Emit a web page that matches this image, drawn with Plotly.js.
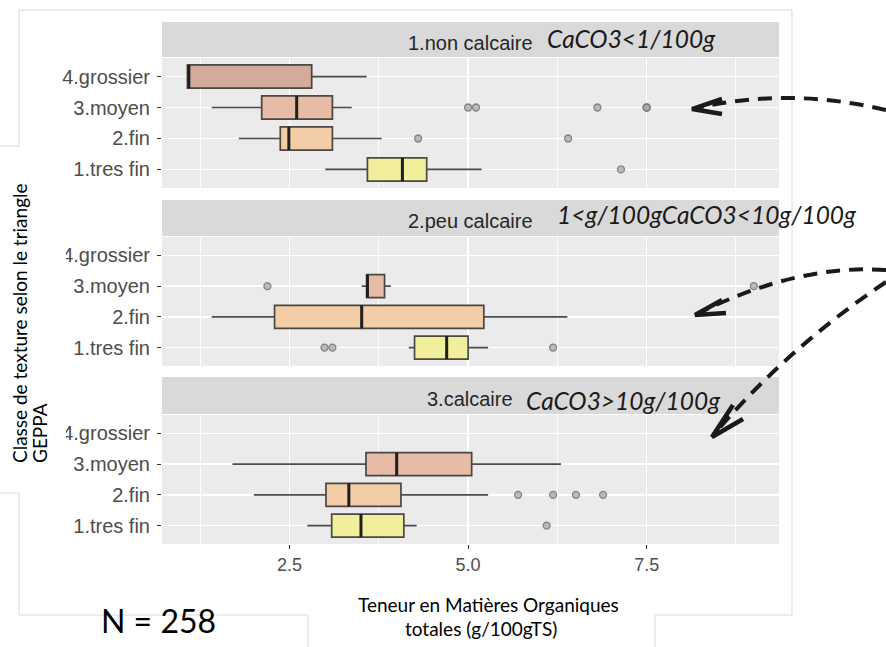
<!DOCTYPE html>
<html>
<head>
<meta charset="utf-8">
<script src="https://cdn.plot.ly/plotly-3.0.1.min.js"></script>
<style>html,body{margin:0;padding:0;background:#fff;}#chart{width:886px;height:647px;}</style>
</head>
<body>
<div id="chart"></div>
<script>
// ---------- data ----------
const categories = ['1.tres fin', '2.fin', '3.moyen', '4.grossier'];
const panelNames = ['1.non calcaire', '2.peu calcaire', '3.calcaire'];
const panelNotes = ['CaCO3<1/100g', '1<g/100gCaCO3<10g/100g', 'CaCO3>10g/100g'];
const xTickLabels = ['2.5', '5.0', '7.5'];
const boxColors = ['#f1ef9b', '#f3cda8', '#e7bca6', '#d4ab9a'];

// panel 1 : non calcaire  (order: tres fin, fin, moyen, grossier)
const nonCalc_lower  = [3.00, 1.79, 1.41, 1.07];
const nonCalc_q1     = [3.59, 2.37, 2.11, 1.07];
const nonCalc_median = [4.08, 2.49, 2.60, 1.09];
const nonCalc_q3     = [4.42, 3.10, 3.10, 2.81];
const nonCalc_upper  = [5.19, 3.79, 3.37, 3.58];
const nonCalc_outX   = [7.14, 4.30, 6.40, 5.00, 5.11, 6.81, 7.50, 7.50];
const nonCalc_outCat = ['1.tres fin', '2.fin', '2.fin', '3.moyen', '3.moyen', '3.moyen', '3.moyen', '3.moyen'];

// panel 2 : peu calcaire
const peuCalc_lower  = [4.17, 1.41, 3.51, null];
const peuCalc_q1     = [4.25, 2.29, 3.58, null];
const peuCalc_median = [4.70, 3.51, 3.59, null];
const peuCalc_q3     = [5.00, 5.22, 3.83, null];
const peuCalc_upper  = [5.28, 6.39, 3.92, null];
const peuCalc_outX   = [2.99, 3.10, 6.19, 2.19, 9.00];
const peuCalc_outCat = ['1.tres fin', '1.tres fin', '1.tres fin', '3.moyen', '3.moyen'];

// panel 3 : calcaire
const calc_lower  = [2.75, 2.00, 1.70, null];
const calc_q1     = [3.09, 3.01, 3.57, null];
const calc_median = [3.50, 3.33, 4.00, null];
const calc_q3     = [4.10, 4.06, 5.05, null];
const calc_upper  = [4.28, 5.28, 6.30, null];
const calc_outX   = [6.10, 5.70, 6.19, 6.51, 6.89];
const calc_outCat = ['1.tres fin', '2.fin', '2.fin', '2.fin', '2.fin'];

// ---------- build ----------
const panels = [
  {lower: nonCalc_lower, q1: nonCalc_q1, med: nonCalc_median, q3: nonCalc_q3, upper: nonCalc_upper, ox: nonCalc_outX, oc: nonCalc_outCat},
  {lower: peuCalc_lower, q1: peuCalc_q1, med: peuCalc_median, q3: peuCalc_q3, upper: peuCalc_upper, ox: peuCalc_outX, oc: peuCalc_outCat},
  {lower: calc_lower, q1: calc_q1, med: calc_median, q3: calc_q3, upper: calc_upper, ox: calc_outX, oc: calc_outCat}
];

const PL = 162, PR = 779, PT = 22, PB = 544;
const fx = p => (p - PL) / (PR - PL);
const fy = p => (PB - p) / (PB - PT);

const BOXW = 0.75;
const traces = [];
panels.forEach((pn, i) => {
  const xa = i === 0 ? 'x' : 'x' + (i + 1);
  const ya = i === 0 ? 'y' : 'y' + (i + 1);
  categories.forEach((c, k) => {
    if (pn.q1[k] === null) return;
    traces.push({
      type: 'box', orientation: 'h', xaxis: xa, yaxis: ya,
      y: [k], q1: [pn.q1[k]], median: [pn.med[k]], q3: [pn.q3[k]],
      lowerfence: [pn.lower[k]], upperfence: [pn.upper[k]],
      width: BOXW, whiskerwidth: 0, boxpoints: false,
      fillcolor: boxColors[k],
      line: {color: 'rgba(45,45,45,0.85)', width: 1.7},
      hoverinfo: 'skip'
    });
  });
  // thick medians
  const mx = [], my = [];
  categories.forEach((c, k) => {
    if (pn.med[k] === null) return;
    mx.push(pn.med[k], pn.med[k], null);
    my.push(k - BOXW / 2, k + BOXW / 2, null);
  });
  traces.push({type: 'scatter', mode: 'lines', xaxis: xa, yaxis: ya, x: mx, y: my,
    line: {color: '#1f1f1f', width: 3}, hoverinfo: 'skip'});
  // outliers
  traces.push({type: 'scatter', mode: 'markers', xaxis: xa, yaxis: ya,
    x: pn.ox, y: pn.oc.map(c => categories.indexOf(c)),
    marker: {size: 7, color: 'rgba(165,165,165,0.75)', line: {color: 'rgba(110,110,110,0.8)', width: 1.3}},
    hoverinfo: 'skip'});
});

const tickFont = {family: 'Liberation Sans, Arial, sans-serif', size: 20, color: '#4d4d4d'};
const xTickFont = {family: 'Liberation Sans, Arial, sans-serif', size: 18, color: '#4d4d4d'};
const domains = [[fy(188), fy(58)], [fy(366), fy(237)], [fy(544), fy(415)]];

const layout = {
  width: 886, height: 647,
  margin: {l: PL, r: 886 - PR, t: PT, b: 647 - PB, pad: 0},
  paper_bgcolor: '#ffffff', plot_bgcolor: '#ebebeb',
  showlegend: false, boxmode: 'overlay', hovermode: false,
  shapes: [], annotations: []
};

panels.forEach((pn, i) => {
  const sfx = i === 0 ? '' : String(i + 1);
  layout['xaxis' + sfx] = {
    anchor: 'y' + sfx, domain: [0, 1], range: [0.714, 9.353],
    matches: i === 0 ? undefined : 'x',
    tickmode: 'array', tickvals: xTickLabels.map(Number), ticktext: xTickLabels,
    showgrid: true, gridcolor: '#ffffff', gridwidth: 1.6, zeroline: false, showline: false,
    minor: {tick0: 0, dtick: 1.25, showgrid: true, gridcolor: '#ffffff', gridwidth: 0.8, ticks: ''},
    showticklabels: i === 2, ticks: i === 2 ? 'outside' : '', ticklen: 4, tickcolor: '#333333', tickwidth: 1.2,
    tickfont: xTickFont, fixedrange: true
  };
  layout['yaxis' + sfx] = {
    anchor: 'x' + sfx, domain: domains[i], range: [-0.6, 3.6],
    tickmode: 'array', tickvals: [0, 1, 2, 3], ticktext: categories,
    showgrid: true, gridcolor: '#ffffff', gridwidth: 1.6, zeroline: false, showline: false,
    ticks: 'outside', ticklen: 4, tickcolor: '#333333', tickwidth: 1.2, ticklabelstandoff: 3,
    tickfont: tickFont, fixedrange: true
  };
});

// strips
const strips = [[22, 57], [200, 236], [377, 414]];
const stripTextY = [43, 221, 399];
const noteX = [545, 555, 524];
const noteY = [38, 214, 400];
strips.forEach((s, i) => {
  layout.shapes.push({type: 'rect', xref: 'paper', yref: 'paper', x0: 0, x1: 1, y0: fy(s[1]), y1: fy(s[0]),
    fillcolor: '#d9d9d9', line: {width: 0}, layer: 'below'});
  layout.annotations.push({xref: 'paper', yref: 'paper', x: fx(470), y: fy(stripTextY[i]), xanchor: 'center', yanchor: 'middle',
    text: panelNames[i], showarrow: false, font: {family: 'Liberation Sans, Arial, sans-serif', size: 20, color: '#262626'}});
  layout.annotations.push({xref: 'paper', yref: 'paper', x: fx(noteX[i]), y: fy(noteY[i]), xanchor: 'left', yanchor: 'middle',
    text: '<i>' + panelNotes[i].replace(/</g, '&lt;').replace(/>/g, '&gt;') + '</i>', showarrow: false,
    font: {family: 'Lato, sans-serif', size: 24.5, color: '#1a1a1a'}});
});

// screenshot frame lines
const frame = [[19, 10, 792, 10], [792, 10, 792, 615], [19, 615, 308, 615], [655, 615, 792, 615],
  [19, 10, 19, 146], [19, 493, 19, 615], [0, 146, 19, 146], [0, 493, 19, 493],
  [308, 615, 308, 647], [655, 615, 655, 647]];
frame.forEach(f => layout.shapes.push({type: 'line', xref: 'paper', yref: 'paper',
  x0: fx(f[0]), y0: fy(f[1]), x1: fx(f[2]), y1: fy(f[3]), line: {color: '#dadada', width: 1}, layer: 'above'}));
// white patch behind y title (clips start of the lower "4.grossier" labels as in the original)
layout.shapes.push({type: 'rect', xref: 'paper', yref: 'paper', x0: fx(0), x1: fx(66), y0: fy(492), y1: fy(147),
  fillcolor: '#ffffff', line: {width: 0}, layer: 'above'});

// dashed arrows
const P = (x, y) => fx(x).toFixed(4) + ',' + fy(y).toFixed(4);
const arrows = [
  {from: [886, 110], ctrl: [789, 87], to: [697, 108], arm1: [722, 99], tip: [692, 109], arm2: [722, 114]},
  {from: [886, 270], ctrl: [798, 264], to: [699, 313], arm1: [722, 300], tip: [695, 315], arm2: [726, 313]},
  {from: [886, 282], ctrl: [790, 346], to: [715, 433], arm1: [733, 405], tip: [712, 437], arm2: [743, 419]}
];
arrows.forEach(a => {
  layout.shapes.push({type: 'path', xref: 'paper', yref: 'paper',
    path: 'M ' + P(a.from[0], a.from[1]) + ' Q ' + P(a.ctrl[0], a.ctrl[1]) + ' ' + P(a.to[0], a.to[1]),
    line: {color: '#1a1a1a', width: 4, dash: '14px,9px'}, layer: 'above'});
  layout.shapes.push({type: 'path', xref: 'paper', yref: 'paper',
    path: 'M ' + P(a.arm1[0], a.arm1[1]) + ' L ' + P(a.tip[0], a.tip[1]) + ' L ' + P(a.arm2[0], a.arm2[1]),
    line: {color: '#1a1a1a', width: 4.5}, layer: 'above'});
});

// titles
const titleFont = {family: 'Lato, sans-serif', size: 19, color: '#000000'};
layout.annotations.push({xref: 'paper', yref: 'paper', x: fx(488), y: fy(604), xanchor: 'center', yanchor: 'middle',
  text: 'Teneur en Matières Organiques', showarrow: false, font: titleFont});
layout.annotations.push({xref: 'paper', yref: 'paper', x: fx(481), y: fy(628), xanchor: 'center', yanchor: 'middle',
  text: 'totales (g/100gTS)', showarrow: false, font: titleFont});
layout.annotations.push({xref: 'paper', yref: 'paper', x: fx(19), y: fy(465), xanchor: 'center', yanchor: 'bottom',
  text: 'Classe de texture selon le triangle', textangle: -90, showarrow: false, font: titleFont});
layout.annotations.push({xref: 'paper', yref: 'paper', x: fx(39), y: fy(465), xanchor: 'center', yanchor: 'bottom',
  text: 'GEPPA', textangle: -90, showarrow: false, font: titleFont});
layout.annotations.push({xref: 'paper', yref: 'paper', x: fx(158), y: fy(620), xanchor: 'center', yanchor: 'middle',
  text: 'N = 258', showarrow: false, font: {family: 'Lato, sans-serif', size: 32, color: '#000000'}});

Plotly.newPlot('chart', traces, layout, {staticPlot: true, displayModeBar: false});
</script>
</body>
</html>
